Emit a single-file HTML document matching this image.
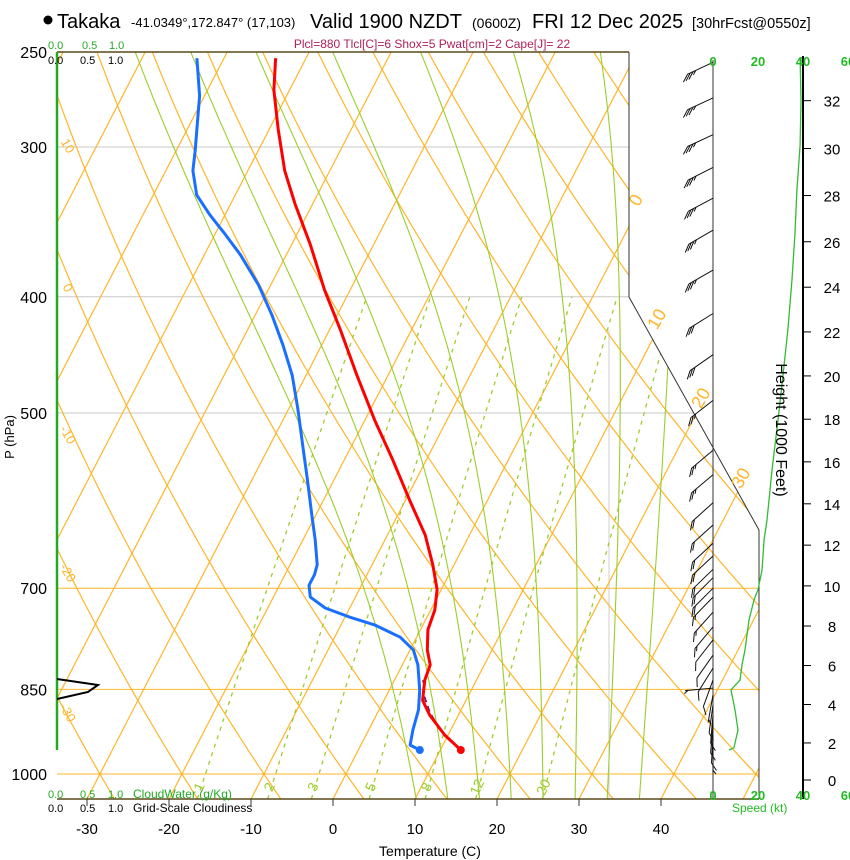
<!DOCTYPE html>
<html><head><meta charset="utf-8"><style>
html,body{margin:0;padding:0;background:#fff;}
svg{display:block;font-family:"Liberation Sans",Arial,sans-serif;}
</style></head><body>
<svg id="chart" width="850" height="860" viewBox="0 0 850 860" xmlns="http://www.w3.org/2000/svg">
<defs><clipPath id="plotclip"><polygon points="57,52 629,52 629,297 759,530 759,799 57,799"/></clipPath></defs>
<g>
<circle cx="48" cy="20" r="4.5" fill="#000"/>
<text x="57" y="28" font-size="20">Takaka</text>
<text x="131" y="27" font-size="13">-41.0349°,172.847° (17,103)</text>
<text x="310" y="28" font-size="20">Valid 1900 NZDT</text>
<text x="472" y="28" font-size="14">(0600Z)</text>
<text x="532" y="28" font-size="20">FRI 12 Dec 2025</text>
<text x="692" y="28" font-size="14.5">[30hrFcst@0550z]</text>
<text x="432" y="48" font-size="12" fill="#b0205a" text-anchor="middle">Plcl=880 Tlcl[C]=6 Shox=5 Pwat[cm]=2 Cape[J]= 22</text>
</g>
<g id="bg" clip-path="url(#plotclip)"></g>
<g id="frame"></g>
<g id="series"></g>
<g id="axes"></g>
</svg>
<script>
// ---- data ----
const tempP=[253,269,290,314,335,362,395,426,465,507,547,591,632,669,702,730,758,788,811,835,868,893,928,955];
const tempC=[-53.7,-51.9,-48.9,-45.5,-42.1,-37.7,-33.1,-28.7,-23.8,-18.8,-14.1,-9.5,-5.4,-2.6,-0.5,0.5,0.9,2.1,3.4,3.7,4.7,6.5,9.6,12.5];
const dewP=[253,272,285,302,314,329,342,355,369,391,414,439,465,497,532,569,608,638,669,682,696,712,727,740,751,769,788,811,851,884,919,946,955];
const dewC=[-63.3,-60.6,-59.3,-57.7,-56.7,-54.7,-51.8,-48.7,-45.6,-41.5,-38.0,-34.7,-31.7,-28.8,-26.0,-23.2,-20.5,-18.5,-16.7,-16.4,-16.4,-15.5,-13.0,-9.4,-5.9,-2.0,0.4,1.9,3.7,4.8,5.4,6.0,7.5];
const parcelP=[955,919,888,859,835];
const parcelC=[12.5,8.7,6.3,4.5,3.5];
const spdP=[253,274,299,326,355,387,426,465,507,558,614,638,676,702,716,744,788,811,835,851,884,919,951,955];
const spdKt=[38.7,39.1,38.7,37.3,36.4,35.1,33.3,31.1,28.9,26.2,24,22.7,21.8,20,18.2,16,14.2,12.9,12,8,9.8,11.1,9.3,7.1];
const barbP=[255,273,293,312,331,352,380,413,447,488,537,563,594,620,642,658,675,686,700,712,733,754,773,796,816,835,848,859,876,893,910,928,946];
const barbKt=[38,38,38,37,36,36,35,33,31,29,26,25,24,23,22,22,21,20,20,18,16,15,14,13,12,12,8,9,10,10,11,10,9];
const barbDir=[245,245,245,243,242,240,240,238,235,232,230,230,228,228,227,227,226,225,225,224,222,220,218,215,212,200,265,190,188,185,185,183,180];
const pTicks=[250,300,400,500,700,850,1000];
const tTicks=[-30,-20,-10,0,10,20,30,40];
const isoTemps=[-110,-100,-90,-80,-70,-60,-50,-40,-30,-20,-10,0,10,20,30,40,50];
const thetaC=[-40,-30,-20,-10,0,10,20,30,40,50,60,70,80,90,100,110,120,130];
const thetaW=[8,12,16,20,24,28,32,36];
const mixR=[1,2,3,5,8,12,20];
const hgtTicks=[0,2,4,6,8,10,12,14,16,18,20,22,24,26,28,30,32];
const spdTicks=[0,20,40,60];

// ---- scales ----
function yP(p){return 774+520.8*Math.log(p/1000);}
function xT(T,p){return 333+8.2*T+0.517*(799-yP(p));}
function xSpd(k){return 713+2.25*k;}
const NS='http://www.w3.org/2000/svg';
function mk(tag,attrs,parent){const e=document.createElementNS(NS,tag);for(const k in attrs)e.setAttribute(k,attrs[k]);parent.appendChild(e);return e;}
const bg=document.getElementById('bg'),frame=document.getElementById('frame'),ser=document.getElementById('series'),ax=document.getElementById('axes');
const ORG='#ffb52a',GRN='#9ccd2a';
function pathFrom(pts){return 'M'+pts.map(q=>q[0].toFixed(1)+','+q[1].toFixed(1)).join('L');}
function pRange(p0,p1,n){const a=[];for(let i=0;i<=n;i++)a.push(p0*Math.pow(p1/p0,i/n));return a;}

pTicks.forEach(p=>{
  const orange=(p>=700);
  const xr=(p<=400)?629:759;
  if(p===250)return;
  const l=mk('line',{x1:57,x2:xr,y1:yP(p),y2:yP(p),stroke:orange?ORG:'#c8c8c8','stroke-width':1},bg);
  
  
});
{const l=mk('line',{x1:609,x2:609,y1:330,y2:799,stroke:'#cfcfcf','stroke-width':1},bg);

}
isoTemps.forEach(T=>{
  const l=mk('line',{x1:xT(T,1049),y1:yP(1049),x2:xT(T,240),y2:yP(240),stroke:ORG,'stroke-width':1.2},bg);
  
  
});
thetaC.forEach(th=>{
  const pts=pRange(1060,240,60).map(p=>{const T=(th+273.15)*Math.pow(p/1000,0.2857)-273.15;return [xT(T,p),yP(p)];});
  const e=mk('path',{d:pathFrom(pts),fill:'none',stroke:ORG,'stroke-width':1.2},bg);
  
  
});
function es(T){return 6.112*Math.exp(17.67*T/(T+243.5));}
function moistStep(T,p,dp){
  const Tk=T+273.15,e=es(T),rs=0.622*e/(p-e),Lv=2.5e6,Rd=287,cp=1005;
  const g=(1/p)*(Rd*Tk+Lv*rs)/(cp+(Lv*Lv*rs*0.622)/(Rd*Tk*Tk));
  return T+g*dp;
}
thetaW.forEach(tw=>{
  const up=[];let T=tw,p=1000;up.push([p,T]);
  while(p>240){const dp=-5;T=moistStep(T,p,dp);p+=dp;up.push([p,T]);}
  const dn=[];T=tw;p=1000;
  while(p<1060){const dp=5;T=moistStep(T,p,dp);p+=dp;dn.unshift([p,T]);}
  const pts=dn.concat(up).map(a=>[xT(a[1],a[0]),yP(a[0])]);
  const e=mk('path',{d:pathFrom(pts),fill:'none',stroke:GRN,'stroke-width':1.1},bg);
  
  
});
mixR.forEach(w=>{
  const pts=pRange(1049,400,30).map(p=>{const e=w*p/(622+w);const L=Math.log(e/6.112);const Td=243.5*L/(17.67-L);return [xT(Td,p),yP(p)];});
  const e=mk('path',{d:pathFrom(pts),fill:'none',stroke:GRN,'stroke-width':1.3,'stroke-dasharray':'4,5'},bg);
  
  
  const e2=w*1030/(622+w),L=Math.log(e2/6.112),Td=243.5*L/(17.67-L);
  const t=mk('text',{x:xT(Td,1030)+3,y:789,fill:GRN,'font-size':14,'text-anchor':'middle',transform:`rotate(-65 ${xT(Td,1030)+3} 789)`},ax);
  t.textContent=w;
  
  
});

[['M57,52L629,52','plot-top-border','#5a4a1a',1.5],['M629,52L629,297L759,530L759,799','plot-right-border','#333',1],['M57,799L759,799','plot-bottom-border','#5a4a1a',1.5],['M713,60L713,799','wind-staff-axis','#333',1],['M803,56L803,799','height-axis-line','#000',2]].forEach(a=>{
  const e=mk('path',{d:a[0],fill:'none',stroke:a[2],'stroke-width':a[3]},frame);
  
  
});
{const e=mk('line',{x1:57,x2:57,y1:52,y2:750,stroke:'#22aa22','stroke-width':2.5},frame);


const c=mk('polyline',{points:'57,679 98,685 88,692 57,699',fill:'none',stroke:'#000','stroke-width':2},frame);

}

function series(P,C,color,name,dash,w){
  const pts=P.map((p,i)=>[xT(C[i],p),yP(p)]);
  const e=mk('path',{d:pathFrom(pts),fill:'none',stroke:color,'stroke-width':w,'stroke-linejoin':'round'},ser);
  if(dash)e.setAttribute('stroke-dasharray',dash);
  
  
}
series(parcelP,parcelC,'#7a1a6a','parcel-path','6,4',2);
series(tempP,tempC,'#ff0000','temperature-line',null,3);
series(dewP,dewC,'#1a6fff','dewpoint-line',null,3);
{const i=tempP.length-1;const d=mk('circle',{cx:xT(tempC[i],tempP[i]),cy:yP(tempP[i]),r:4,fill:'#ff0000'},ser);


const j=dewP.length-1;const d2=mk('circle',{cx:xT(dewC[j],dewP[j]),cy:yP(dewP[j]),r:4,fill:'#1a6fff'},ser);

}

{const pts=spdP.map((p,i)=>[xSpd(spdKt[i]),yP(p)]);
const e=mk('path',{d:pathFrom(pts),fill:'none',stroke:'#33bb33','stroke-width':1.3},ser);

}

barbP.forEach((p,i)=>{
  const y=yP(p),d=barbDir[i]*Math.PI/180;
  const ux=Math.sin(d),uy=-Math.cos(d),L=28;
  const tx=713+ux*L,ty=y+uy*L;
  let dstr=`M713,${y.toFixed(1)}L${tx.toFixed(1)},${ty.toFixed(1)}`;
  const px=uy,py=-ux;const fx=0.6*px+0.8*ux,fy=0.6*py+0.8*uy;
  let k=barbKt[i],pos=0;
  const full=Math.floor(k/10);const half=(k%10)>=5?1:0;
  for(let f=0;f<full;f++){const bx=tx-ux*pos,by=ty-uy*pos;dstr+=`M${bx.toFixed(1)},${by.toFixed(1)}l${(fx*9).toFixed(1)},${(fy*9).toFixed(1)}`;pos+=3;}
  if(half){if(full===0)pos=3;const bx=tx-ux*pos,by=ty-uy*pos;dstr+=`M${bx.toFixed(1)},${by.toFixed(1)}l${(fx*5).toFixed(1)},${(fy*5).toFixed(1)}`;}
  const e=mk('path',{d:dstr,fill:'none',stroke:'#111','stroke-width':1},ser);
  
  
});

pTicks.forEach(p=>{
  const t=mk('text',{x:47,y:yP(p)+6,'font-size':16,'text-anchor':'end'},ax);t.textContent=p;
  
  
});
tTicks.forEach(T=>{
  const x=333+8.2*T;
  const l=mk('line',{x1:x,x2:x,y1:799,y2:806,stroke:'#333','stroke-width':1},ax);
  
  
  const t=mk('text',{x:x,y:834,'font-size':15,'text-anchor':'middle'},ax);t.textContent=T;
  
  
});
hgtTicks.forEach(h=>{
  const ft=h*1000;const p=1013.25*Math.pow(1-6.8756e-6*ft,5.2559);
  let y=yP(p);if(h===0)y=780;
  const l=mk('line',{x1:803,x2:811,y1:y,y2:y,stroke:'#000','stroke-width':1},ax);
  
  
  const t=mk('text',{x:832,y:y+6,'font-size':15,'text-anchor':'middle'},ax);t.textContent=h;
  
  
});
spdTicks.forEach(s=>{
  [66,800].forEach(y=>{
    const t=mk('text',{x:xSpd(s),y:y,'font-size':13,'font-weight':'bold',fill:'#22bb22','text-anchor':'middle'},ax);t.textContent=s;
    
    
  });
});
[[10,148],[0,290],[-10,437],[-20,575],[-30,715]].forEach(a=>{
  const t=mk('text',{x:64,y:a[1],'font-size':13,fill:ORG,'text-anchor':'middle',transform:`rotate(60 64 ${a[1]})`},ax);t.textContent=a[0];
  
  
});
[[0,641,203],[10,662,322],[20,706,401],[30,746,481]].forEach(a=>{
  const t=mk('text',{x:a[1],y:a[2],'font-size':18,fill:ORG,'text-anchor':'middle',transform:`rotate(-60 ${a[1]} ${a[2]})`},ax);t.textContent=a[0];
  
  
});
</script>
<script>
(function(){
const ax=document.getElementById('axes');const NS='http://www.w3.org/2000/svg';
function txt(x,y,s,str,attrs,name){const t=document.createElementNS(NS,'text');t.setAttribute('x',x);t.setAttribute('y',y);t.setAttribute('font-size',s);for(const k in attrs)t.setAttribute(k,attrs[k]);t.textContent=str;


ax.appendChild(t);}
txt(48,49,11,'0.0',{fill:'#22aa22'},'cloudwater-scale-top');
txt(82,49,11,'0.5',{fill:'#22aa22'},'cloudwater-scale-top');
txt(109,49,11,'1.0',{fill:'#22aa22'},'cloudwater-scale-top');
txt(48,64,11,'0.0',{},'cloudiness-scale-top');
txt(80,64,11,'0.5',{},'cloudiness-scale-top');
txt(108,64,11,'1.0',{},'cloudiness-scale-top');
txt(48,798,11,'0.0',{fill:'#22aa22'},'cloudwater-scale-bottom');
txt(80,798,11,'0.5',{fill:'#22aa22'},'cloudwater-scale-bottom');
txt(108,798,11,'1.0',{fill:'#22aa22'},'cloudwater-scale-bottom');
txt(133,798,12,'CloudWater (g/Kg)',{fill:'#22aa22'},'cloudwater-title');
txt(48,812,11,'0.0',{},'cloudiness-scale-bottom');
txt(80,812,11,'0.5',{},'cloudiness-scale-bottom');
txt(108,812,11,'1.0',{},'cloudiness-scale-bottom');
txt(133,812,12,'Grid-Scale Cloudiness',{},'cloudiness-title');
txt(732,812,12,'Speed (kt)',{fill:'#22bb22'},'speed-axis-title');
txt(430,856,14,'Temperature (C)',{'text-anchor':'middle'},'x-axis-title');
txt(14,437,13,'P (hPa)',{'text-anchor':'middle',transform:'rotate(-90 14 437)'},'y-axis-title');
txt(776,430,16,'Height (1000 Feet)',{'text-anchor':'middle',transform:'rotate(90 776 430)'},'height-axis-title');
})();
</script>
</body></html>
